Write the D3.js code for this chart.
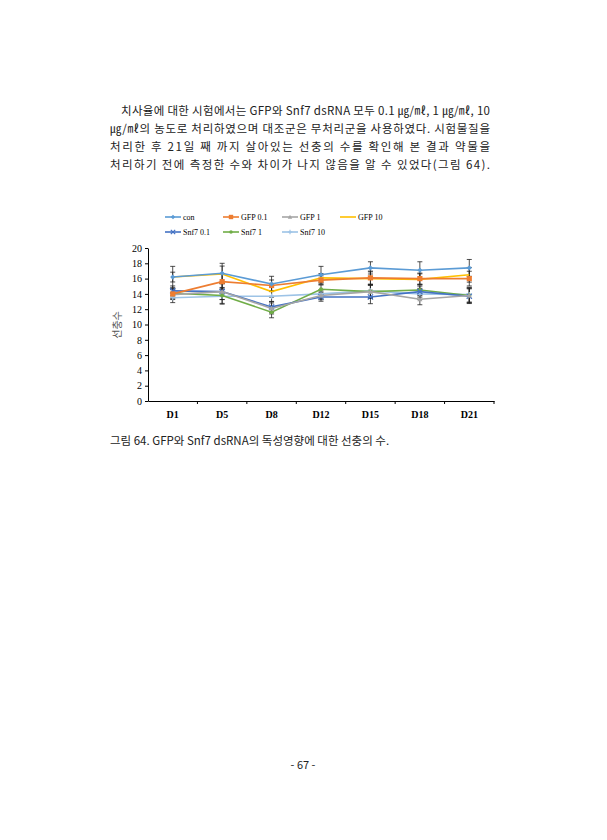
<!DOCTYPE html>
<html><head><meta charset="utf-8">
<script src="https://cdn.jsdelivr.net/npm/d3@7"></script>
<style>body{margin:0;background:#fff}svg{display:block}</style>
</head><body>
<svg id="c" width="607" height="840"></svg>
<script>
const categories = ["D1","D5","D8","D12","D15","D18","D21"];
const seriesNames = ["con","GFP 0.1","GFP 1","GFP 10","Snf7 0.1","Snf7 1","Snf7 10"];
const con     = [16.2,16.7,15.3,16.5,17.4,17.1,17.4];
const gfp01   = [14.0,15.6,15.1,15.8,16.1,16.0,16.0];
const gfp1    = [13.9,14.3,12.1,13.8,14.3,13.3,13.8];
const gfp10   = [16.2,16.6,14.3,16.1,16.0,15.9,16.5];
const snf01   = [14.4,14.3,12.3,13.6,13.6,14.3,13.7];
const snf1    = [14.1,13.8,11.6,14.6,14.3,14.5,13.8];
const snf10   = [13.5,13.7,13.7,14.0,14.4,14.0,13.9];
const errCon  = [1.4,1.3,1.0,1.1,0.8,1.1,1.1];
const errOth  = [0.8,1.3,0.9,0.7,1.1,0.9,1.2];
const yTicks = [0,2,4,6,8,10,12,14,16,18,20];
const paragraph = [
 "치사율에 대한 시험에서는 GFP와 Snf7 dsRNA 모두 0.1 ㎍/㎖, 1 ㎍/㎖, 10",
 "㎍/㎖의 농도로 처리하였으며 대조군은 무처리군을 사용하였다. 시험물질을",
 "처리한 후 21일 째 까지 살아있는 선충의 수를 확인해 본 결과 약물을",
 "처리하기 전에 측정한 수와 차이가 나지 않음을 알 수 있었다(그림 64)."
];
const caption = "그림 64. GFP와 Snf7 dsRNA의 독성영향에 대한 선충의 수.";
const data = [con,gfp01,gfp1,gfp10,snf01,snf1,snf10];
const colors = ["#5B9BD5","#ED7D31","#A5A5A5","#FFC000","#4472C4","#70AD47","#9DC3E6"];
const shapes = ["diamond","square","triangle","none","x","circle","plus"];

const svg = d3.select("#c");
const serif = "'Liberation Serif','Noto Sans CJK KR',serif";
const kfont = "'Noto Sans CJK KR','Liberation Serif',serif";

// paragraph
paragraph.forEach((t,i)=>{
  const x0 = i===0?121:110;
  svg.append("text").attr("x",x0).attr("y",115+i*18)
    .attr("font-family",kfont).attr("font-size",11.5).attr("fill","#222")
    .attr("textLength",490-x0).attr("lengthAdjust","spacing")
    .text(t);
});

const x = d3.scaleBand().domain(categories).range([148,494]);
const y = d3.scaleLinear().domain([0,20]).range([401,248]);
const g = svg.append("g");

// axes
const ya = g.append("g").attr("transform","translate(148,0)")
  .call(d3.axisLeft(y).tickValues(yTicks).tickSize(3).tickSizeOuter(0));
ya.selectAll("text").attr("font-family",serif).attr("font-size",10).attr("fill","#000");
ya.selectAll("line,path").attr("stroke","#000");
const xa = g.append("g").attr("transform","translate(0,401)")
  .call(d3.axisBottom(x).tickSize(3).tickSizeOuter(0));
xa.selectAll("text").attr("font-family",serif).attr("font-size",10).attr("font-weight","bold").attr("fill","#000").attr("dy","1.1em");
xa.selectAll(".tick line").attr("transform",`translate(${x.bandwidth()/2},0)`);
xa.select(".domain").attr("stroke","#000");
g.append("text").attr("transform","translate(121,325) rotate(-90)").attr("text-anchor","middle")
  .attr("font-family",kfont).attr("font-size",10).attr("fill","#555").text("선충수");

function marker(sel,shape,color,s){
  if(shape==="none") return;
  if(shape==="circle") sel.append("circle").attr("r",s*0.8).attr("fill",color);
  else if(shape==="square") sel.append("rect").attr("x",-s).attr("y",-s).attr("width",2*s).attr("height",2*s).attr("fill",color);
  else if(shape==="diamond") sel.append("path").attr("d",`M0,${-s}L${s},0L0,${s}L${-s},0Z`).attr("fill",color);
  else if(shape==="triangle") sel.append("path").attr("d",`M0,${-s}L${s},${s*0.8}L${-s},${s*0.8}Z`).attr("fill",color);
  else if(shape==="x") sel.append("path").attr("d",`M${-s},${-s}L${s},${s}M${s},${-s}L${-s},${s}`).attr("stroke",color).attr("stroke-width",1.2);
  else if(shape==="plus") sel.append("path").attr("d",`M${-s},0L${s},0M0,${-s}L0,${s}`).attr("stroke",color).attr("stroke-width",1.2);
}
const cx = c=>x(c)+x.bandwidth()/2;

// error bars
data.forEach((vals,si)=>{
  const err = si===0?errCon:errOth;
  vals.forEach((v,i)=>{
    const X=cx(categories[i]), e=err[i]*(si===0?1:0.8);
    g.append("path").attr("d",`M${X},${y(v-e)}L${X},${y(v+e)}M${X-2.5},${y(v-e)}L${X+2.5},${y(v-e)}M${X-2.5},${y(v+e)}L${X+2.5},${y(v+e)}`)
      .attr("stroke","#222").attr("stroke-width",0.8).attr("fill","none");
  });
});
// lines
const line = d3.line().x((d,i)=>cx(categories[i])).y(d=>y(d));
[6,5,4,3,2,1,0].forEach(si=>{
  g.append("path").datum(data[si]).attr("d",line).attr("fill","none").attr("stroke",colors[si]).attr("stroke-width",1.6);
  data[si].forEach((v,i)=>{
    marker(g.append("g").attr("transform",`translate(${cx(categories[i])},${y(v)})`),shapes[si],colors[si],2.6);
  });
});

// legend
const legPos = [[165,217],[223,217],[282,217],[340,217],[165,232],[223,232],[282,232]];
seriesNames.forEach((n,i)=>{
  const [lx,ly]=legPos[i];
  svg.append("line").attr("x1",lx).attr("x2",lx+16).attr("y1",ly).attr("y2",ly).attr("stroke",colors[i]).attr("stroke-width",1.6);
  marker(svg.append("g").attr("transform",`translate(${lx+8},${ly})`),shapes[i],colors[i],2.2);
  svg.append("text").attr("x",lx+18).attr("y",ly+3).attr("font-family",serif).attr("font-size",8).attr("fill","#000").text(n);
});

svg.append("text").attr("x",110).attr("y",445).attr("font-family",kfont).attr("font-size",11.5).attr("fill","#222").text(caption);
svg.append("text").attr("x",303).attr("y",769).attr("text-anchor","middle").attr("font-family",kfont).attr("font-size",11).attr("fill","#222").text("- 67 -");
</script>
</body></html>
